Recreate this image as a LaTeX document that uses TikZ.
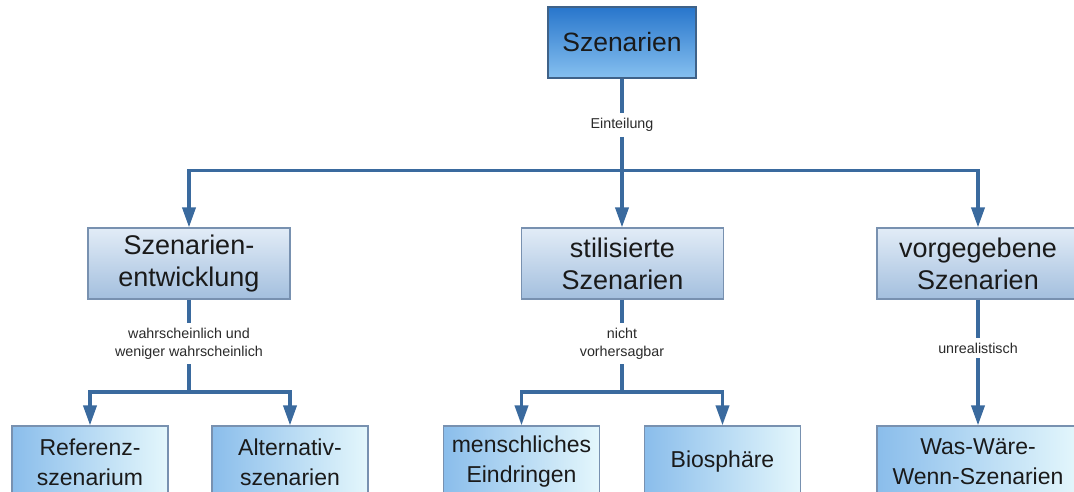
\documentclass[tikz,border=0pt]{standalone}
\usepackage{fontspec}
\setmainfont{Liberation Sans}
\usetikzlibrary{arrows.meta}

\definecolor{linkblue}{HTML}{3A6A9E}
\definecolor{inktext}{HTML}{1A1A1A}
\definecolor{labeltext}{HTML}{2A2A2A}
\definecolor{rootborder}{HTML}{3F6288}
\definecolor{boxborder}{HTML}{7891B0}
\definecolor{roottop}{RGB}{40,118,204}
\definecolor{rootbottom}{RGB}{134,192,239}
\definecolor{grouptop}{RGB}{226,236,247}
\definecolor{groupbottom}{RGB}{163,191,222}
\definecolor{leafleft}{RGB}{138,189,235}
\definecolor{leafright}{RGB}{228,247,252}

\tikzset{
  rootbox/.style={draw=rootborder, line width=1.1pt,
    top color=roottop, bottom color=rootbottom,
    minimum width=148pt, minimum height=71pt, inner sep=0pt, align=center,
    text=inktext, font=\fontsize{26.5}{31}\selectfont},
  groupbox/.style={draw=boxborder, line width=1.1pt,
    top color=grouptop, bottom color=groupbottom,
    minimum width=202pt, minimum height=71pt, inner sep=0pt, align=center,
    text=inktext, font=\fontsize{27}{32}\selectfont},
  leafbox/.style={draw=boxborder, line width=1.1pt,
    left color=leafleft, right color=leafright,
    minimum width=156pt, minimum height=72pt, inner sep=0pt, align=center,
    text=inktext, font=\fontsize{23}{30}\selectfont},
  edgelabel/.style={fill=white, inner xsep=2pt, inner ysep=5pt, align=center,
    text=labeltext, font=\fontsize{14.3}{18}\selectfont},
  link/.style={draw=linkblue, line width=3.6pt},
  linkarrow/.style={link, -{Triangle[length=20pt,width=13pt]}}
}

\begin{document}
\begin{tikzpicture}[x=1pt,y=-1pt]
  \useasboundingbox (0,0) rectangle (1074,492);
  \clip (0,0) rectangle (1074,492);

  % root
  \node[rootbox] (root) at (622,42.5) {Szenarien};

  % second level
  \node[groupbox] (dev) at (189,263.5) {Szenarien-\\entwicklung};
  \node[groupbox] (sty) at (622.5,263.5) {stilisierte\\Szenarien};
  \node[groupbox] (pre) at (978,263.5) {vorgegebene\\Szenarien};

  % third level (boxes run past the lower edge)
  \node[leafbox] (ref) at (90,462) {Referenz-\\szenarium};
  \node[leafbox] (alt) at (290,462) {Alternativ-\\szenarien};
  \node[leafbox] (hum) at (521.5,462) {menschliches\\Eindringen};
  \node[leafbox] (bio) at (722.5,462) {Biosphäre};
  \node[leafbox, minimum width=202pt] (what) at (978,462) {Was-Wäre-\\Wenn-Szenarien};

  % edge labels
  \node[edgelabel] (ein) at (622,125) {Einteilung};
  \node[edgelabel] (wahr) at (189,343.5) {wahrscheinlich und\\weniger wahrscheinlich};
  \node[edgelabel] (nicht) at (622,343.5) {nicht\\vorhersagbar};
  \node[edgelabel] (unreal) at (978,348) {unrealistisch};

  % junction points
  \coordinate (topbar) at (622,170.5);
  \coordinate (topleft) at (189,170.5);
  \coordinate (topright) at (978,170.5);
  \coordinate (devbar) at (189,392);
  \coordinate (devleft) at (90,392);
  \coordinate (devright) at (290,392);
  \coordinate (stybar) at (622,392);
  \coordinate (styleft) at (521.5,392);
  \coordinate (styright) at (722.5,392);

  % root to second level
  \draw[link] (root.south) -- (ein) -- (topbar);
  \draw[link, line cap=rect] (topleft) -- (topright);
  \draw[linkarrow] (topleft) -- (dev);
  \draw[linkarrow] (topbar) -- (sty.north -| topbar);
  \draw[linkarrow] (topright) -- (pre);

  % Szenarienentwicklung branch
  \draw[link] (dev) -- (wahr) -- (devbar);
  \draw[link, line cap=rect] (devleft) -- (devright);
  \draw[linkarrow] (devleft) -- (ref);
  \draw[linkarrow] (devright) -- (alt);

  % stilisierte Szenarien branch
  \draw[link] (sty.south -| stybar) -- (nicht) -- (stybar);
  \draw[link, line cap=rect] (styleft) -- (styright);
  \draw[linkarrow] (styleft) -- (hum);
  \draw[linkarrow] (styright) -- (bio);

  % vorgegebene Szenarien branch
  \draw[link] (pre) -- (unreal);
  \draw[linkarrow] (unreal) -- (what);
\end{tikzpicture}
\end{document}
